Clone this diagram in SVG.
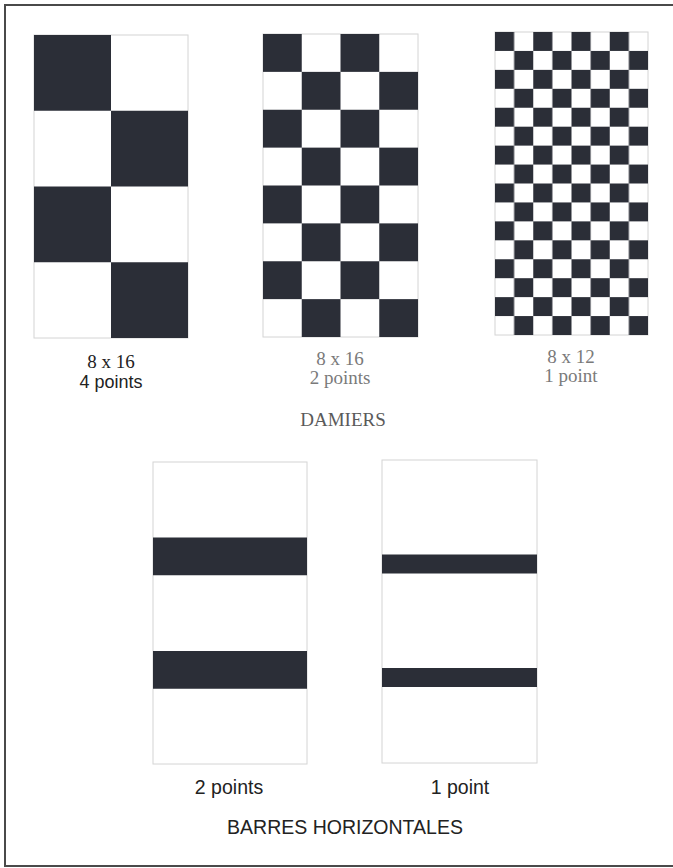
<svg xmlns="http://www.w3.org/2000/svg" width="673" height="868" viewBox="0 0 673 868">
  <style>
    .bg { fill: #ffffff; }
    .frame { fill: none; stroke: #4a4a4a; stroke-width: 2; }
    .panel { fill: #ffffff; stroke: #d4d4d4; stroke-width: 1; }
    .dark { fill: #2b2e37; }
    .serif { font-family: "Liberation Serif", "Times New Roman", serif; font-size: 19px; text-anchor: middle; }
    .sans { font-family: "Liberation Sans", Arial, sans-serif; text-anchor: middle; }
    .c1 { fill: #222222; }
    .c2 { fill: #7a7a7a; }
    .c3 { fill: #5a5a5a; }
  </style>
  <defs>
    <pattern id="chk4" patternUnits="userSpaceOnUse" x="34" y="35" width="154" height="151.5">
      <rect class="dark" x="0" y="0" width="77" height="75.75"/>
      <rect class="dark" x="77" y="75.75" width="77" height="75.75"/>
    </pattern>
    <pattern id="chk2" patternUnits="userSpaceOnUse" x="263" y="34" width="77.5" height="75.75">
      <rect class="dark" x="0" y="0" width="38.75" height="37.875"/>
      <rect class="dark" x="38.75" y="37.875" width="38.75" height="37.875"/>
    </pattern>
    <pattern id="chk1" patternUnits="userSpaceOnUse" x="495" y="32" width="38.25" height="37.875">
      <rect class="dark" x="0" y="0" width="19.125" height="18.9375"/>
      <rect class="dark" x="19.125" y="18.9375" width="19.125" height="18.9375"/>
    </pattern>
  </defs>

  <rect class="bg" x="0" y="0" width="673" height="868"/>
  <path class="frame" d="M673 5 H5 V866 H673"/>

  <g id="damier-4points">
    <rect class="panel" x="34" y="35" width="154" height="303"/>
    <rect x="34" y="35" width="154" height="303" fill="url(#chk4)"/>
    <text class="serif c1" x="111" y="368">8 x 16</text>
    <text class="sans c1" x="111" y="388" font-size="18">4 points</text>
  </g>

  <g id="damier-2points">
    <rect class="panel" x="263" y="34" width="155" height="303"/>
    <rect x="263" y="34" width="155" height="303" fill="url(#chk2)"/>
    <text class="serif c2" x="340" y="365">8 x 16</text>
    <text class="serif c2" x="340" y="384">2 points</text>
  </g>

  <g id="damier-1point">
    <rect class="panel" x="495" y="32" width="153" height="303"/>
    <rect x="495" y="32" width="153" height="303" fill="url(#chk1)"/>
    <text class="serif c2" x="571" y="363">8 x 12</text>
    <text class="serif c2" x="571" y="382">1 point</text>
  </g>

  <g id="title-damiers">
    <text class="serif c3" x="343" y="426">DAMIERS</text>
  </g>

  <g id="barres-2points">
    <rect class="panel" x="153" y="462" width="154" height="302"/>
    <rect class="dark" x="153" y="537.5" width="154" height="37.75"/>
    <rect class="dark" x="153" y="651" width="154" height="37.75"/>
    <text class="sans c1" x="229" y="794" font-size="19.5">2 points</text>
  </g>

  <g id="barres-1point">
    <rect class="panel" x="382" y="460" width="155" height="303"/>
    <rect class="dark" x="382" y="554.5" width="155" height="19"/>
    <rect class="dark" x="382" y="668" width="155" height="19"/>
    <text class="sans c1" x="460" y="794" font-size="19.5">1 point</text>
  </g>

  <g id="title-barres">
    <text class="sans c1" x="345" y="834" font-size="19.5">BARRES HORIZONTALES</text>
  </g>

  <g id="connectors"/>
</svg>
